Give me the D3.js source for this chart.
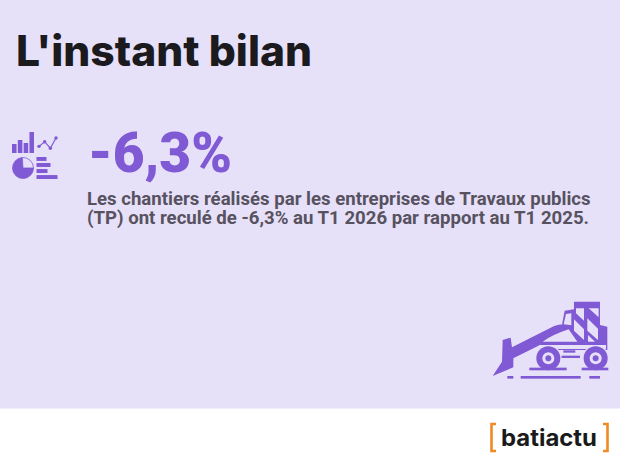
<!doctype html>
<html>
  <head>
    <meta charset="utf-8">
    <title>L'instant bilan</title>
    <style>
      html, body { margin: 0; padding: 0; background: #fff; }
      svg { display: block; }
    </style>
  </head>
  <body>
    <div id="chart"></div>
    <script src="https://d3js.org/d3.v7.min.js"></script>
    <script>
      var titleText = "L'instant bilan";
      var keyFigure = ["-6,3%"];
      var bodyLines = [
        "Les chantiers réalisés par les entreprises de Travaux publics",
        "(TP) ont reculé de -6,3% au T1 2026 par rapport au T1 2025."
      ];
      var brandName = ["batiactu"];

      // pictogram contents
      var iconBars = [9, 13, 10, 21];
      var iconLine = [5, 10, 3, 14];
      var iconPie = [74, 26];
      var iconRows = [10, 14, 11, 21];

      var width = 620, height = 465;
      var purple = '#8059d4', lavender = '#e7e0f9';

      var svg = d3.select('#chart').append('svg')
        .attr('width', width)
        .attr('height', height);

      svg.append('rect')
        .attr('width', width).attr('height', 408.5)
        .attr('fill', lavender);

      svg.append('text')
        .attr('x', 16).attr('y', 66)
        .attr('font-family', 'Inter, sans-serif')
        .attr('font-weight', 800)
        .attr('font-size', 42)
        .attr('textLength', 296)
        .attr('lengthAdjust', 'spacingAndGlyphs')
        .attr('fill', '#1b1a1f')
        .text(titleText);

      svg.selectAll('.figure').data(keyFigure).enter().append('text')
        .attr('class', 'figure')
        .attr('x', 88).attr('y', 172)
        .attr('font-family', 'Roboto, sans-serif')
        .attr('font-weight', 900)
        .attr('font-size', 56)
        .attr('textLength', 144)
        .attr('lengthAdjust', 'spacingAndGlyphs')
        .attr('fill', purple)
        .text(function(d) { return d; });

      svg.selectAll('.body').data(bodyLines).enter().append('text')
        .attr('class', 'body')
        .attr('x', 87)
        .attr('y', function(d, i) { return 205 + i * 19; })
        .attr('font-family', 'Roboto, sans-serif')
        .attr('font-weight', 700)
        .attr('font-size', 18.6)
        .attr('fill', '#57525f')
        .text(function(d) { return d; });

      // chart pictogram
      var icon = svg.append('g');

      var barX = d3.scaleBand().domain(d3.range(iconBars.length)).range([12, 34]).paddingInner(0.22);
      var barY = d3.scaleLinear().domain([0, 21]).range([153, 132]);
      icon.selectAll('.bar').data(iconBars).enter().append('rect')
        .attr('class', 'bar')
        .attr('x', function(d, i) { return barX(i); })
        .attr('y', function(d) { return barY(d); })
        .attr('width', barX.bandwidth())
        .attr('height', function(d) { return 153 - barY(d); })
        .attr('fill', purple);

      var lineX = d3.scaleLinear().domain([0, iconLine.length - 1]).range([39, 56]);
      var lineY = d3.scaleLinear().domain([0, 14]).range([151, 138]);
      icon.append('path')
        .datum(iconLine)
        .attr('d', d3.line().x(function(d, i) { return lineX(i); }).y(function(d) { return lineY(d); }))
        .attr('fill', 'none')
        .attr('stroke', purple)
        .attr('stroke-width', 1.2);
      icon.selectAll('.pt').data(iconLine).enter().append('circle')
        .attr('class', 'pt')
        .attr('cx', function(d, i) { return lineX(i); })
        .attr('cy', function(d) { return lineY(d); })
        .attr('r', 1.7)
        .attr('fill', purple);

      var arcs = d3.pie().sort(null).startAngle(Math.PI / 2).endAngle(Math.PI * 2.5)(iconPie);
      var arc = d3.arc().innerRadius(0).outerRadius(10.5);
      icon.append('g').attr('transform', 'translate(23,168)')
        .selectAll('path').data(arcs).enter().append('path')
        .attr('d', arc)
        .attr('fill', function(d, i) { return i ? lavender : purple; })
        .attr('stroke', purple)
        .attr('stroke-width', 0.8);

      var rowY = d3.scaleBand().domain(d3.range(iconRows.length)).range([157, 179]).paddingInner(0.35);
      var rowX = d3.scaleLinear().domain([0, 21]).range([0, 21]);
      icon.selectAll('.row').data(iconRows).enter().append('rect')
        .attr('class', 'row')
        .attr('x', 36.5)
        .attr('y', function(d, i) { return rowY(i); })
        .attr('width', function(d) { return rowX(d); })
        .attr('height', rowY.bandwidth())
        .attr('fill', purple);

      // bulldozer illustration, drawn in a 3x grid
      var dozer = svg.append('g').attr('transform', 'translate(480,290) scale(0.3333)');
      dozer.append('path')
        .attr('fill', purple)
        .attr('d', 'M68,150 L92,143 L96,172 L215,112 Q235,102 246,104 L254,62 L282,58 L282,35 L360,35 L360,105 L382,110 L382,180 L180,180 L180,165 L100,205 L100,232 L38,258 L66,215 Z');
      // cab windows and stripes
      dozer.append('path')
        .attr('fill', lavender)
        .attr('d', 'M258,72 L274,70 L274,106 L251,103 Z M288,55 L312,55 L312,92 L288,70 Z M326,55 L356,55 L356,82 L332,60 Z M282,88 L312,118 L312,150 L282,122 Z M322,85 L354,116 L354,150 L322,122 Z M266,118 L292,155 L188,155 Q215,135 266,118 Z M324,135 L345,155 L324,155 Z');
      dozer.append('rect').attr('x', 178).attr('y', 165).attr('width', 200).attr('height', 12).attr('fill', lavender);
      dozer.append('rect').attr('x', 250).attr('y', 181).attr('width', 36).attr('height', 7).attr('fill', purple);
      dozer.append('rect').attr('x', 238).attr('y', 197).attr('width', 62).attr('height', 7).attr('fill', purple);
      var wheels = [205, 347];
      wheels.forEach(function(cx) {
        dozer.append('circle').attr('cx', cx).attr('cy', 205).attr('r', 40).attr('fill', lavender);
        dozer.append('circle').attr('cx', cx).attr('cy', 205).attr('r', 36).attr('fill', purple);
        dozer.append('circle').attr('cx', cx).attr('cy', 205).attr('r', 18).attr('fill', lavender);
        dozer.append('circle').attr('cx', cx).attr('cy', 205).attr('r', 9).attr('fill', purple);
      });
      var groundBars = [[148, 233, 112, 8], [305, 233, 80, 8], [82, 258, 18, 8], [122, 258, 180, 8], [328, 258, 32, 8]];
      dozer.selectAll('.ground').data(groundBars).enter().append('rect')
        .attr('class', 'ground')
        .attr('x', function(d) { return d[0]; })
        .attr('y', function(d) { return d[1]; })
        .attr('width', function(d) { return d[2]; })
        .attr('height', function(d) { return d[3]; })
        .attr('fill', purple);

      // logo
      svg.append('text')
        .attr('x', 501).attr('y', 446)
        .attr('font-family', 'Inter, sans-serif')
        .attr('font-weight', 700)
        .attr('font-size', 23)
        .attr('textLength', 96)
        .attr('lengthAdjust', 'spacingAndGlyphs')
        .attr('fill', '#1a1a1a')
        .text(brandName[0]);
      var brackets = ['M496,424 H491.5 V451 H496', 'M603,424 H607.5 V451 H603'];
      svg.selectAll('.bracket').data(brackets).enter().append('path')
        .attr('class', 'bracket')
        .attr('d', function(d) { return d; })
        .attr('fill', 'none')
        .attr('stroke', '#f08a24')
        .attr('stroke-width', 2.6);
    </script>
  </body>
</html>
